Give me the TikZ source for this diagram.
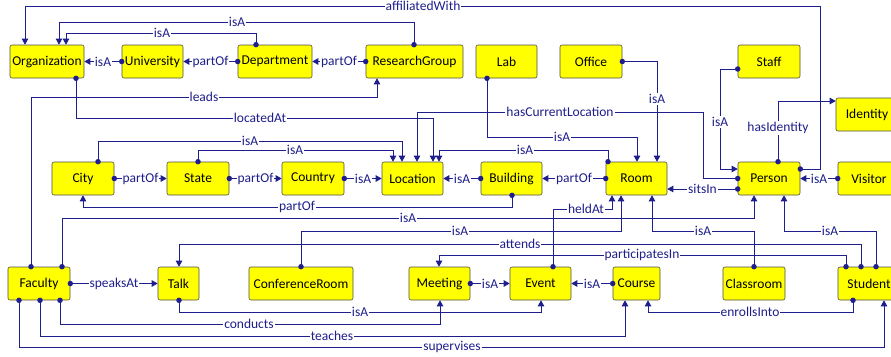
\documentclass[tikz,border=0pt]{standalone}
\usepackage{fontspec}
\setmainfont{Carlito}
\usetikzlibrary{arrows.meta}
\definecolor{edgeblue}{RGB}{30,30,140}
\definecolor{boxyellow}{RGB}{255,255,0}
\begin{document}
\begin{tikzpicture}[x=1pt,y=-1pt,
  cls/.style={draw=black!70, fill=boxyellow, rounded corners=2pt, minimum height=33pt, inner sep=0pt, font=\fontsize{13.5}{16}\selectfont, line width=0.6pt},
  rel/.style={draw=edgeblue, line width=0.9pt, -{Triangle[length=6pt,width=6.5pt]}},
  src/.style={circle, fill=edgeblue, inner sep=0pt, minimum size=5.5pt},
  lbl/.style={fill=white, text=edgeblue, inner sep=1pt, font=\fontsize{13.5}{16}\selectfont}]
\useasboundingbox (0,0) rectangle (891,356);
% row 1
\node[cls, minimum width=74pt] (org) at (47,61.5) {Organization};
\node[cls, minimum width=61pt] (uni) at (152.5,61.5) {University};
\node[cls, minimum width=74pt] (dept) at (275,61.5) {Department};
\node[cls, minimum width=97pt] (rg) at (414.5,61.5) {ResearchGroup};
\node[cls, minimum width=61pt] (lab) at (506.5,61.5) {Lab};
\node[cls, minimum width=62pt] (office) at (591,61.5) {Office};
\node[cls, minimum width=62pt] (staff) at (769,61.5) {Staff};
\node[cls, minimum width=62pt] (identity) at (867,114.5) {Identity};
% row 2
\node[cls, minimum width=62pt] (city) at (83,178.5) {City};
\node[cls, minimum width=62pt] (state) at (198,178.5) {State};
\node[cls, minimum width=62pt] (country) at (313,178.5) {Country};
\node[cls, minimum width=61pt] (location) at (412.5,178.5) {Location};
\node[cls, minimum width=61pt] (building) at (511.5,178.5) {Building};
\node[cls, minimum width=61pt] (room) at (636.5,178.5) {Room};
\node[cls, minimum width=62pt] (person) at (769,178.5) {Person};
\node[cls, minimum width=62pt] (visitor) at (869,178.5) {Visitor};
% row 3
\node[cls, minimum width=62pt] (faculty) at (39,283.5) {Faculty};
\node[cls, minimum width=41pt] (talk) at (178.5,283.5) {Talk};
\node[cls, minimum width=104pt] (confroom) at (301,283.5) {ConferenceRoom};
\node[cls, minimum width=61pt] (meeting) at (439.5,283.5) {Meeting};
\node[cls, minimum width=61pt] (event) at (540.5,283.5) {Event};
\node[cls, minimum width=47pt] (course) at (636.5,283.5) {Course};
\node[cls, minimum width=62pt] (classroom) at (754,283.5) {Classroom};
\node[cls, minimum width=62pt] (student) at (869,283.5) {Student};

% straight links
\draw[rel] (uni.west) node[src]{} -- node[lbl]{isA} (org.east);
\draw[rel] (dept.west) node[src]{} -- node[lbl]{partOf} (uni.east);
\draw[rel] (rg.west) node[src]{} -- node[lbl]{partOf} (dept.east);
\draw[rel] (visitor.west) node[src]{} -- node[lbl]{isA} (person.east);
\draw[rel] (building.west) node[src]{} -- node[lbl]{isA} (location.east);
\draw[rel] (room.west) node[src]{} -- node[lbl]{partOf} (building.east);
\draw[rel] (country.east) node[src]{} -- node[lbl]{isA} (location.west);
\draw[rel] (city.east) node[src]{} -- node[lbl]{partOf} (state.west);
\draw[rel] (state.east) node[src]{} -- node[lbl]{partOf} (country.west);
\draw[rel] (meeting.east) node[src]{} -- node[lbl]{isA} (event.west);
\draw[rel] (course.west) node[src]{} -- node[lbl]{isA} (event.east);
\draw[rel] (faculty.east) node[src]{} -- node[lbl]{speaksAt} (talk.west);
\draw[rel] (person.west |- 0,189) node[src]{} -- node[lbl]{sitsIn} (room.east |- 0,189);

% top routes
\draw[rel] (dept.north -| 256,0) node[src]{} |- (66,33) -- (org.north -| 66,0) node[lbl] at (162,33) {isA};
\draw[rel] (rg.north -| 414,0) node[src]{} |- (59,22) -- (org.north -| 59,0) node[lbl] at (237,22) {isA};
\draw[rel] (person.east |- 0,169) node[src]{} -| (820,6) -| (org.north -| 25,0) node[lbl] at (423,6) {affiliatedWith};
\draw[rel] (faculty.north -| 31,0) node[src]{} |- (377,97) -- (rg.south -| 377,0) node[lbl] at (204,97) {leads};
\draw[rel] (org.south -| 76,0) node[src]{} |- (433,118) -- (location.north -| 433,0) node[lbl] at (260,118) {locatedAt};
\draw[rel] (lab.south -| 487,0) node[src]{} |- (637,137) -- (room.north -| 637,0) node[lbl] at (562,137) {isA};
\draw[rel] (office.east) node[src]{} -| (room.north -| 657,0) node[lbl] at (657,99) {isA};
\draw[rel] (person.west) node[src]{} -- (703,178.5) -- (703,112) -- (417,112) -- (location.north -| 417,0) node[lbl] at (560,112) {hasCurrentLocation};
\draw[rel] (staff.west |- 0,69) node[src]{} -| (720,169) -- (person.west |- 0,169) node[lbl] at (720,122) {isA};
\draw[rel] (person.north -| 778,0) node[src]{} |- (identity.west |- 0,101) node[lbl] at (778,128) {hasIdentity};
\draw[rel] (city.north -| 98,0) node[src]{} |- (402,141) -- (location.north -| 402,0) node[lbl] at (250,141) {isA};
\draw[rel] (state.north -| 198,0) node[src]{} |- (393,150) -- (location.north -| 393,0) node[lbl] at (295,150) {isA};
\draw[rel] (room.north -| 608,0) node[src]{} |- (439,150) -- (location.north -| 439,0) node[lbl] at (525,150) {isA};
\draw[rel] (building.south -| 512,0) node[src]{} |- (83,207) -- (city.south) node[lbl] at (297,207) {partOf};

% middle routes
\draw[rel] (faculty.north -| 62,0) node[src]{} |- (754,218) -- (person.south -| 754,0) node[lbl] at (408,218) {isA};
\draw[rel] (event.north -| 553,0) node[src]{} |- (612,209) -- (room.south -| 612,0) node[lbl] at (586,209) {heldAt};
\draw[rel] (confroom.north) node[src]{} |- (621,231) -- (room.south -| 621,0) node[lbl] at (460,231) {isA};
\draw[rel] (classroom.north) node[src]{} |- (652,231) -- (room.south -| 652,0) node[lbl] at (703,231) {isA};
\draw[rel] (student.north -| 876,0) node[src]{} |- (784,231) -- (person.south -| 784,0) node[lbl] at (830,231) {isA};
\draw[rel] (student.north -| 861,0) node[src]{} |- (179,244) -- (talk.north -| 179,0) node[lbl] at (520,244) {attends};
\draw[rel] (student.north -| 846,0) node[src]{} |- (439,255) -- (meeting.north -| 439,0) node[lbl] at (642,255) {participatesIn};

% bottom routes
\draw[rel] (talk.south -| 179,0) node[src]{} |- (541,312) -- (event.south -| 541,0) node[lbl] at (360,312) {isA};
\draw[rel] (faculty.south -| 60,0) node[src]{} |- (440,324) -- (meeting.south -| 440,0) node[lbl] at (249,324) {conducts};
\draw[rel] (faculty.south -| 40,0) node[src]{} |- (625,336) -- (course.south -| 625,0) node[lbl] at (332,336) {teaches};
\draw[rel] (faculty.south -| 19,0) node[src]{} |- (884,347) -- (student.south -| 884,0) node[lbl] at (452,347) {supervises};
\draw[rel] (student.south -| 853,0) node[src]{} |- (648,312) -- (course.south -| 648,0) node[lbl] at (750,312) {enrollsInto};
\end{tikzpicture}
\end{document}
